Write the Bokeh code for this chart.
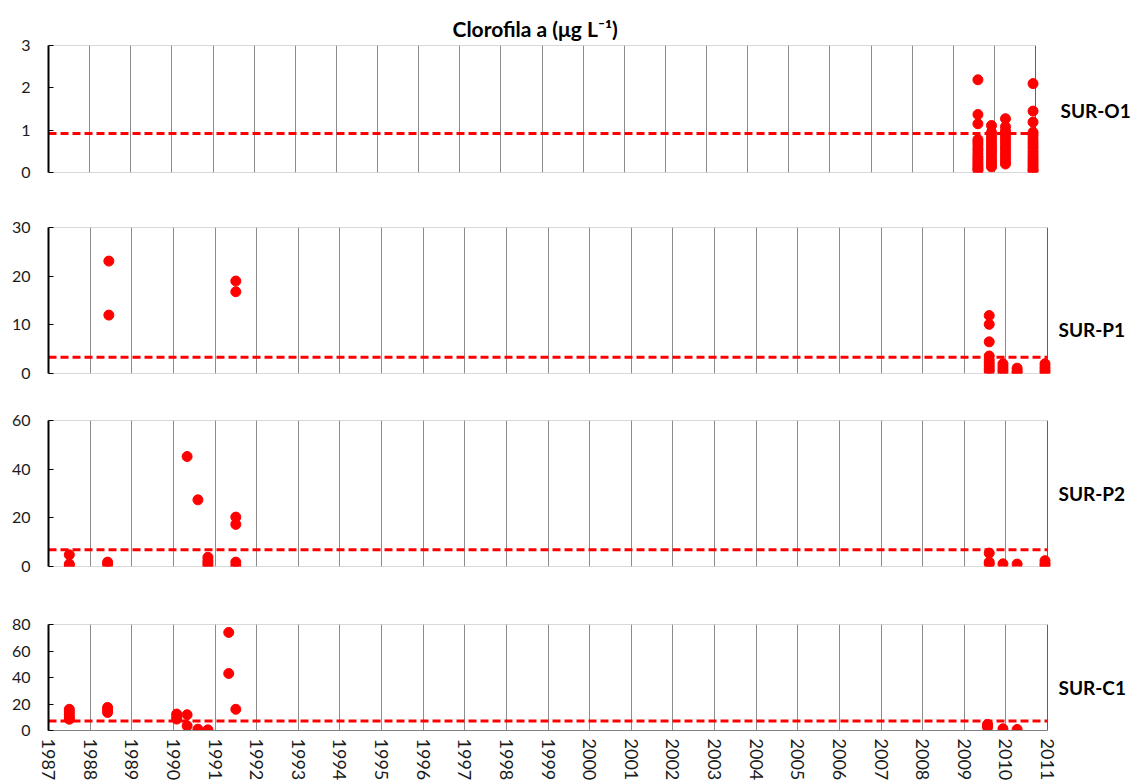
from bokeh.plotting import figure
from bokeh.layouts import column
from bokeh.models import Range1d, FixedTicker, Label, ColumnDataSource, BoxAnnotation
from bokeh.embed import file_html
from bokeh.resources import INLINE

# Sampling campaigns (decimal year) and chlorophyll-a concentrations (ug/L) per station
O1_DATES = [2009.6, 2009.93, 2010.27, 2010.94]
O1_VALUES = [
    [2.19, 1.37, 1.15, 0.78, 0.72, 0.66, 0.58, 0.52, 0.45, 0.38, 0.33, 0.28, 0.22, 0.17, 0.12, 0.08, 0.05],
    [1.11, 0.95, 0.85, 0.78, 0.70, 0.62, 0.55, 0.48, 0.40, 0.32, 0.25, 0.18, 0.13],
    [1.27, 1.08, 0.98, 0.90, 0.82, 0.74, 0.66, 0.58, 0.50, 0.42, 0.35, 0.27, 0.20],
    [2.10, 1.45, 1.19, 0.95, 0.88, 0.80, 0.72, 0.65, 0.58, 0.50, 0.43, 0.36, 0.30, 0.24, 0.18, 0.12, 0.07, 0.03],
]

P1_DATES = [1988.45, 1991.5, 2009.6, 2009.93, 2010.27, 2010.94]
P1_VALUES = [
    [23.1, 12.0],
    [19.0, 16.8],
    [11.9, 10.1, 6.5, 3.6, 2.8, 2.2, 1.6, 1.0, 0.5],
    [2.0, 1.4, 0.8, 0.3],
    [1.1, 0.5, 0.2],
    [2.0, 1.3, 0.7, 0.2],
]

P2_DATES = [1987.5, 1988.42, 1990.33, 1990.59, 1990.83, 1991.5, 2009.6, 2009.93, 2010.27, 2010.94]
P2_VALUES = [
    [4.8, 1.0, 0.4],
    [1.8, 0.8],
    [45.2],
    [27.4],
    [3.8, 2.5, 1.5, 0.5],
    [20.3, 17.3, 1.8, 0.3],
    [5.5, 1.8, 1.1],
    [1.1],
    [1.0],
    [2.4, 1.2, 0.3],
]

C1_DATES = [1987.5, 1988.42, 1990.08, 1990.33, 1990.59, 1990.83, 1991.33, 1991.5, 2009.56, 2009.93, 2010.27]
C1_VALUES = [
    [16.0, 14.0, 12.0, 10.0, 8.5],
    [17.4, 15.5, 13.6],
    [12.4, 10.5, 8.6],
    [11.9, 3.5],
    [1.0],
    [0.5],
    [74.0, 43.0],
    [16.0],
    [4.6, 3.5, 2.5],
    [1.3],
    [0.8],
]

STATIONS = ["SUR-O1", "SUR-P1", "SUR-P2", "SUR-C1"]
REFERENCE_LEVEL = [0.92, 3.35, 6.9, 7.1]
Y_MAX = [3, 30, 60, 80]
Y_TICKS = [[0, 1, 2, 3], [0, 10, 20, 30], [0, 20, 40, 60], [0, 20, 40, 60, 80]]
YEARS = list(range(1987, 2012))
X_START, X_END = 1987, 2011

TITLE = "Clorofila a (\u03bcg L\u207b\u00b9)"
FONT = "Lato"
RED = "#ff0000"

WIDTH = 1131
# panel geometry: (left, box width for 1987-2011, top, frame_h, bottom)
GEOM = [
    (46, 987, 45, 127, 28),
    (48, 999, 27, 146, 27),
    (48, 999, 20, 146, 34),
    (48, 999, 24, 106, 53),
]
TITLE_OFFSET = 404
# station label anchor: gap in px right of the panel box, y in data units
LABEL_GAP = [25, 11, 11, 11]
LABEL_Y = [1.47, 9.0, 30.0, 32.8]


def expand(dates, values):
    xs, ys = [], []
    for d, vals in zip(dates, values):
        for v in vals:
            xs.append(d)
            ys.append(v)
    return xs, ys


series = [
    expand(O1_DATES, O1_VALUES),
    expand(P1_DATES, P1_VALUES),
    expand(P2_DATES, P2_VALUES),
    expand(C1_DATES, C1_VALUES),
]

figs = []
for i, (xs, ys) in enumerate(series):
    left, box_w, top, fh, bottom = GEOM[i]
    frame_w = WIDTH - left
    yrs_per_px = (X_END - X_START) / box_w
    x_hi = X_START + frame_w * yrs_per_px
    p = figure(
        frame_width=frame_w, frame_height=fh,
        min_border_left=left, min_border_right=0,
        min_border_top=top, min_border_bottom=bottom,
        x_range=Range1d(X_START, x_hi), y_range=Range1d(0, Y_MAX[i]),
        output_backend="svg", toolbar_location=None,
    )
    p.background_fill_color = "white"
    p.border_fill_color = "white"
    p.outline_line_color = None

    if i == 0:
        p.title.text = TITLE
        p.title.align = "left"
        p.title.offset = TITLE_OFFSET
        p.title.text_font = FONT
        p.title.text_font_size = "21px"
        p.title.text_font_style = "bold"
        p.title.text_color = "black"
        p.title.standoff = 10

    # vertical year grid
    p.xgrid.ticker = FixedTicker(ticks=YEARS)
    p.xgrid.grid_line_color = "#8c8c8c"
    p.xgrid.grid_line_width = 1
    p.ygrid.visible = False

    # panel box
    p.add_layout(BoxAnnotation(left=X_START, right=X_END, bottom=0, top=Y_MAX[i],
                               fill_color=None, line_color="black", line_width=1,
                               level="underlay"))

    # y axis
    yax = p.yaxis[0]
    yax.ticker = FixedTicker(ticks=Y_TICKS[i])
    yax.axis_line_color = "black"
    yax.axis_line_width = 2
    yax.major_tick_in = 5
    yax.major_tick_out = 0
    yax.major_tick_line_color = "black"
    yax.minor_tick_line_color = None
    yax.major_label_standoff = 18
    yax.major_label_text_font = FONT
    yax.major_label_text_font_size = "16px"
    yax.major_label_text_color = "#1a1a1a"

    xax = p.xaxis[0]
    if i < 3:
        xax.visible = False
    else:
        xax.bounds = (X_START, X_END)
        xax.ticker = FixedTicker(ticks=YEARS)
        xax.major_label_orientation = "vertical"
        xax.major_tick_in = 0
        xax.major_tick_out = 0
        xax.minor_tick_line_color = None
        xax.axis_line_color = "#808080"
        xax.major_label_standoff = 8
        xax.major_label_text_font = FONT
        xax.major_label_text_font_size = "18px"
        xax.major_label_text_color = "#1a1a1a"

    # reference level, limited to the panel box
    ref_x = [X_START, X_END]
    p.line(ref_x, [REFERENCE_LEVEL[i]] * 2, line_color=RED, line_width=3, line_dash="8 4")

    src = ColumnDataSource(dict(x=xs, y=ys))
    p.scatter("x", "y", source=src, size=10, fill_color=RED, line_color=RED)

    p.add_layout(Label(x=X_END + LABEL_GAP[i] * yrs_per_px, y=LABEL_Y[i], text=STATIONS[i],
                       text_font=FONT, text_font_size="19px", text_font_style="bold",
                       text_color="black", text_baseline="middle", text_align="left"))
    figs.append(p)

layout = column(*figs, spacing=0)
open("out.html", "w").write(file_html(layout, INLINE))
